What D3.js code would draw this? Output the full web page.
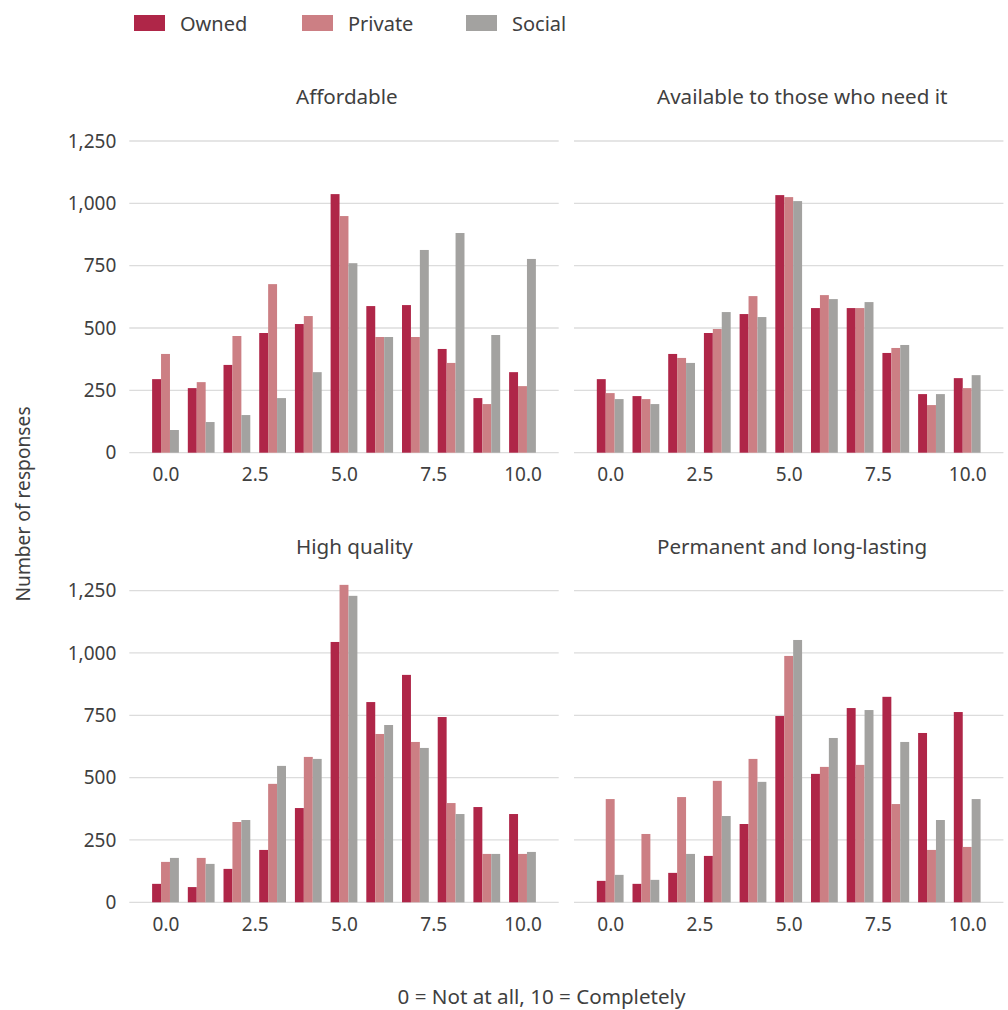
<!DOCTYPE html>
<html lang="en">
<head>
<meta charset="utf-8">
<script src="https://d3js.org/d3.v7.min.js"></script>
<style>
  * { margin: 0; padding: 0; }
  body { background: #fff; }
  svg text { font-family: "Noto Sans", "Open Sans", sans-serif; fill: #404040; }
</style>
</head>
<body>
<script>
// scores 0..10 on the x axis
const scores = [0, 1, 2, 3, 4, 5, 6, 7, 8, 9, 10];
const seriesNames = ['Owned', 'Private', 'Social'];
const seriesColors = ['#af2648', '#cc7f84', '#a3a2a0'];
const xTicks = [0, 2.5, 5, 7.5, 10];
const yTicks = [0, 250, 500, 750, 1000, 1250];
const panelTitles = ['Affordable', 'Available to those who need it', 'High quality', 'Permanent and long-lasting'];

// values
const affordableOwned   = [295, 259, 352, 480, 516, 1037, 588, 592, 416, 219, 323];
const affordablePrivate = [396, 283, 468, 676, 548, 949, 464, 464, 360, 195, 267];
const affordableSocial  = [91, 123, 151, 219, 323, 760, 464, 813, 881, 472, 777];

const availableOwned   = [295, 227, 396, 480, 556, 1033, 580, 580, 400, 235, 299];
const availablePrivate = [239, 215, 380, 496, 628, 1025, 632, 580, 420, 191, 259];
const availableSocial  = [215, 195, 360, 564, 544, 1009, 616, 604, 432, 235, 311];

const qualityOwned   = [74, 61, 134, 210, 378, 1044, 803, 912, 743, 382, 354];
const qualityPrivate = [162, 178, 322, 475, 583, 1273, 675, 643, 398, 194, 194];
const qualitySocial  = [178, 154, 330, 547, 575, 1229, 711, 619, 354, 194, 202];

const permanentOwned   = [86, 74, 118, 186, 314, 747, 515, 779, 824, 679, 763];
const permanentPrivate = [414, 274, 422, 487, 575, 988, 543, 551, 394, 210, 222];
const permanentSocial  = [110, 90, 194, 346, 483, 1052, 659, 771, 643, 330, 414];

const panelSeries = [
  [affordableOwned, affordablePrivate, affordableSocial],
  [availableOwned, availablePrivate, availableSocial],
  [qualityOwned, qualityPrivate, qualitySocial],
  [permanentOwned, permanentPrivate, permanentSocial]
];

const width = 1008, height = 1010;
const panelW = 429.4;
const panelLeft = [129.3, 574, 129.3, 574];
const panelZero = [452.7, 452.7, 902.3, 902.3];
const panelH = 311.7; // 0 -> 1250
const titleX = [296, 657, 296, 657];

const svg = d3.select('body').append('svg')
  .attr('width', width)
  .attr('height', height);

const fmt = d3.format(',');
const barW = 0.25;

panelSeries.forEach((series, p) => {
  const x = d3.scaleLinear()
    .domain([-1.014, 11.014])
    .range([panelLeft[p], panelLeft[p] + panelW]);
  const y = d3.scaleLinear()
    .domain([0, 1250])
    .range([panelZero[p], panelZero[p] - panelH]);

  const g = svg.append('g');

  // gridlines
  g.selectAll('line.grid')
    .data(yTicks)
    .join('line')
    .attr('class', 'grid')
    .attr('x1', x.range()[0])
    .attr('x2', x.range()[1])
    .attr('y1', d => y(d))
    .attr('y2', d => y(d))
    .attr('stroke', '#dcdcdc')
    .attr('stroke-width', 1.3);

  // bars
  series.forEach((vals, s) => {
    g.selectAll('rect.s' + s)
      .data(vals)
      .join('rect')
      .attr('class', 's' + s)
      .attr('x', (d, i) => x(scores[i] - 0.375 + s * barW))
      .attr('width', x(barW) - x(0))
      .attr('y', d => y(d))
      .attr('height', d => y(0) - y(d))
      .attr('fill', seriesColors[s]);
  });

  // x axis labels
  const xAxis = d3.axisBottom(x).tickValues(xTicks).tickFormat(d3.format('.1f')).tickSize(0).tickPadding(15);
  g.append('g')
    .attr('transform', `translate(0,${y(0)})`)
    .call(xAxis)
    .call(a => a.select('.domain').remove())
    .selectAll('text')
    .attr('font-size', 19)
    .attr('fill', '#404040');

  // y axis labels only on the left column
  if (p % 2 === 0) {
    const yAxis = d3.axisLeft(y).tickValues(yTicks).tickFormat(fmt).tickSize(0).tickPadding(13);
    g.append('g')
      .attr('transform', `translate(${x.range()[0]},0)`)
      .call(yAxis)
      .call(a => a.select('.domain').remove())
      .selectAll('text')
      .attr('font-size', 19)
      .attr('fill', '#404040');
  }

  // panel title
  g.append('text')
    .attr('x', titleX[p])
    .attr('y', panelZero[p] - 348.5)
    .attr('font-size', 20.6)
    .text(panelTitles[p]);
});

// legend
const legendX = [134, 302, 466];
const legend = svg.append('g');
seriesNames.forEach((name, i) => {
  legend.append('rect')
    .attr('x', legendX[i])
    .attr('y', 15)
    .attr('width', 31)
    .attr('height', 16)
    .attr('fill', seriesColors[i]);
  legend.append('text')
    .attr('x', legendX[i] + 46)
    .attr('y', 30.5)
    .attr('font-size', 20)
    .text(name);
});

// axis titles
svg.append('text')
  .attr('transform', 'translate(30,504) rotate(-90)')
  .attr('text-anchor', 'middle')
  .attr('font-size', 19.2)
  .text('Number of responses');

svg.append('text')
  .attr('x', 541.5)
  .attr('y', 1004)
  .attr('text-anchor', 'middle')
  .attr('font-size', 20.6)
  .text('0 = Not at all, 10 = Completely');
</script>
</body>
</html>
